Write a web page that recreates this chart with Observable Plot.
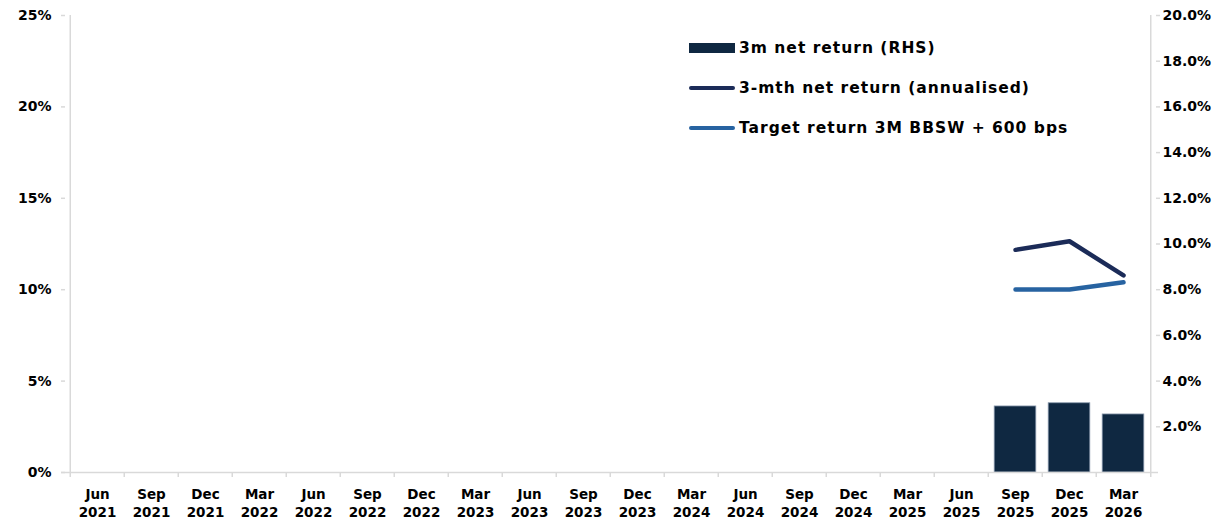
<!DOCTYPE html>
<html>
<head>
<meta charset="utf-8">
<script src="https://cdn.jsdelivr.net/npm/d3@7"></script>
<script src="https://cdn.jsdelivr.net/npm/@observablehq/plot@0.6"></script>
<style>
  html, body { margin: 0; padding: 0; background: #fff; }
  #wrap { position: relative; width: 1221px; height: 524px; font-family: "DejaVu Sans", sans-serif; font-weight: 700; }
  .leg { position: absolute; left: 689px; height: 24px; display: flex; align-items: center; font-size: 15.5px; letter-spacing: 1px; color: #000; white-space: nowrap; }
  .sw { width: 46px; margin-right: 4px; }
</style>
</head>
<body>
<div id="wrap"></div>
<script>
// ---- data ----
const quarters = ["Jun 2021","Sep 2021","Dec 2021","Mar 2022","Jun 2022","Sep 2022","Dec 2022","Mar 2023",
  "Jun 2023","Sep 2023","Dec 2023","Mar 2024","Jun 2024","Sep 2024","Dec 2024","Mar 2025",
  "Jun 2025","Sep 2025","Dec 2025","Mar 2026"];
const dataQuarters = ["Sep 2025","Dec 2025","Mar 2026"];
const net3m = [2.89, 3.03, 2.54];             // RHS, %
const netAnnualised = [12.18, 12.65, 10.78];  // LHS, %
const targetReturn = [10.01, 10.01, 10.41];   // LHS, %
const leftTicks = [0, 5, 10, 15, 20, 25];
const rightTicks = [2, 4, 6, 8, 10, 12, 14, 16, 18, 20];
const seriesNames = ["3m net return (RHS)", "3-mth net return (annualised)", "Target return 3M BBSW + 600 bps"];
const colors = ["#0f2841", "#1b2b58", "#2763a1"];

const leftMax = 25, rightMax = 20, k = leftMax / rightMax;

const bars = dataQuarters.map((q, i) => ({q, v: net3m[i]}));
const ann = dataQuarters.map((q, i) => ({q, v: netAnnualised[i]}));
const tgt = dataQuarters.map((q, i) => ({q, v: targetReturn[i]}));

const W = 1221, H = 524, mL = 65, mR = 66, mT = 15, mB = 52;
const band = (W - mL - mR) / quarters.length;
const pxPerUnit = (H - mT - mB) / leftMax;
const axisGray = "#d9d9d9";
const first = quarters[0], last = quarters[quarters.length - 1];
const font = "'DejaVu Sans', sans-serif";

const chart = Plot.plot({
  width: W, height: H,
  marginLeft: mL, marginRight: mR, marginTop: mT, marginBottom: mB,
  style: {fontFamily: font, fontWeight: 700, fontSize: "14px", color: "#000", background: "#fff"},
  x: {type: "band", domain: quarters, padding: 0, axis: null},
  y: {domain: [0, leftMax], axis: null},
  marks: [
    // axis lines
    Plot.ruleX([first], {x: d => d, dx: -band / 2, y1: 0, y2: leftMax, stroke: axisGray, strokeWidth: 1.5}),
    Plot.ruleX([last], {x: d => d, dx: band / 2, y1: 0, y2: leftMax, stroke: axisGray, strokeWidth: 1.5}),
    Plot.axisY({anchor: "left", ticks: leftTicks, tickSize: 4, tickPadding: 10, tickFormat: d => d + "%", stroke: axisGray, strokeWidth: 1.5, fill: "#000", fontSize: 14, label: null}),
    Plot.axisY({anchor: "right", ticks: rightTicks.map(v => v * k), tickSize: 4, tickPadding: 3, tickFormat: d => (d / k).toFixed(1) + "%", stroke: axisGray, strokeWidth: 1.5, fill: "#000", fontSize: 14, label: null}),
    Plot.axisX({anchor: "bottom", tickSize: 0, tickPadding: 13, tickFormat: d => d.replace(" ", "\n"), lineHeight: 1.36, fill: "#000", fontSize: 13.5, label: null}),
    Plot.ruleX(quarters, {x: d => d, dx: -band / 2, y1: 0, y2: -5 / pxPerUnit, stroke: axisGray, strokeWidth: 1.5}),
    Plot.ruleX([last], {x: d => d, dx: band / 2, y1: 0, y2: -5 / pxPerUnit, stroke: axisGray, strokeWidth: 1.5}),
    Plot.barY(bars, {x: "q", y: d => d.v * k, fill: colors[0], stroke: "#8796aa", strokeWidth: 0.8, insetLeft: 6.2, insetRight: 6.2}),
    Plot.ruleY([0], {stroke: axisGray, strokeWidth: 1.5, insetLeft: -4, insetRight: -3}),
    Plot.lineY(ann, {x: "q", y: "v", stroke: colors[1], strokeWidth: 4.5, strokeLinecap: "round", strokeLinejoin: "round"}),
    Plot.lineY(tgt, {x: "q", y: "v", stroke: colors[2], strokeWidth: 4.5, strokeLinecap: "round", strokeLinejoin: "round"})
  ]
});

const wrap = document.getElementById("wrap");
wrap.appendChild(chart);

// legend
const legendY = [48, 88, 128];
seriesNames.forEach((name, i) => {
  const item = document.createElement("div");
  item.className = "leg";
  item.style.top = (legendY[i] - 12) + "px";
  const sw = document.createElement("div");
  sw.className = "sw";
  if (i === 0) {
    sw.style.height = "10px";
    sw.style.background = colors[0];
  } else {
    sw.style.height = "4.5px";
    sw.style.borderRadius = "3px";
    sw.style.background = colors[i];
  }
  item.appendChild(sw);
  const t = document.createElement("span");
  t.textContent = name;
  item.appendChild(t);
  wrap.appendChild(item);
});
</script>
</body>
</html>
